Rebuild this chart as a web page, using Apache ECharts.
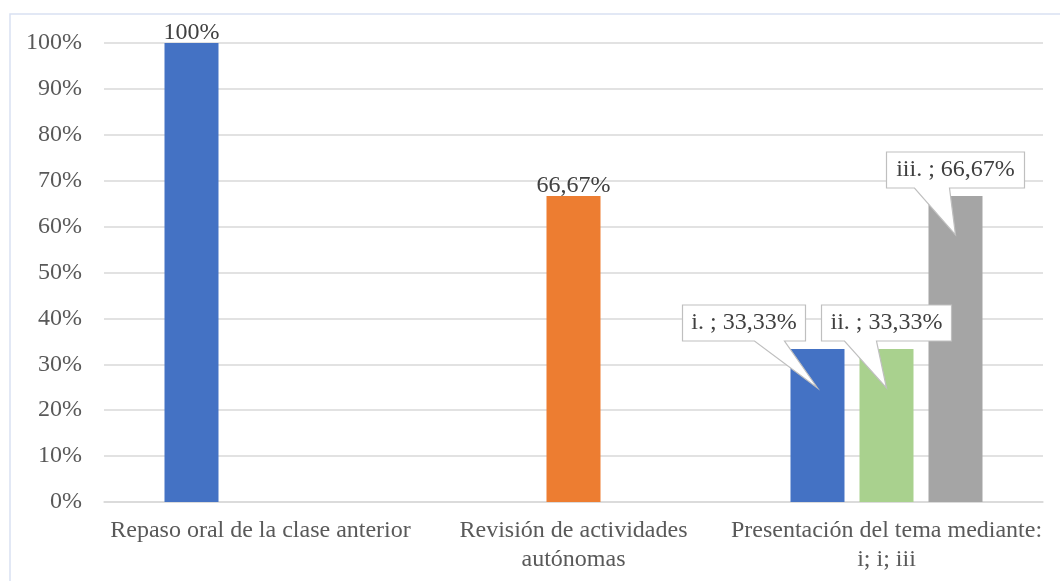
<!DOCTYPE html>
<html>
<head>
<meta charset="utf-8">
<script src="https://cdn.jsdelivr.net/npm/echarts@6/dist/echarts.min.js"></script>
<style>
  html, body { margin: 0; padding: 0; background: #ffffff; }
  #chart { width: 1060px; height: 581px; }
</style>
</head>
<body>
<div id="chart"></div>
<script>
// Categories (x axis), with explicit line breaks
const categories = [
  'Repaso oral de la clase anterior',
  'Revisión de actividades\nautónomas',
  'Presentación del tema mediante:\ni; i; iii'
];

// Percentages per bar slot (null = no bar in that slot)
const slotA = [100, null, 33.33];
const slotB = [null, 66.67, 33.33];
const slotC = [null, null, 66.67];

// Names used in the callouts of the last category
const calloutNames = ['i.', 'ii.', 'iii.'];

// Y axis ticks
const yMin = 0, yMax = 100, yStep = 10;

// ---- styling ----
const FONT = '"Liberation Serif", "Times New Roman", serif';
const AXIS_TEXT = '#595959';
const LABEL_TEXT = '#404040';
const GRID_LINE = '#d9d9d9';
const BAR_W = 54;
const BAR_GAP = 15;

// colour of each bar, by slot then category
const slotColors = [
  ['#4472c4', '#4472c4', '#4472c4'],
  ['#ed7d31', '#ed7d31', '#a9d18e'],
  ['#a5a5a5', '#a5a5a5', '#a5a5a5']
];

// callout boxes: horizontal shift of the box centre, box width, and
// where the pointer leaves the box bottom (relative to the bar centre)
const calloutLayout = [
  { dx: -73.5, w: 123, base: [-63, -33] },
  { dx: 0,     w: 130, base: [-42, -10] },
  { dx: 0,     w: 138, base: [-41, -6] }
];

function fmtPct(v) {
  return Number.isInteger(v) ? v + '%' : v.toFixed(2).replace('.', ',') + '%';
}

const CALLOUT_CAT = 2;
const slots = [slotA, slotB, slotC];

function barSeries(values, slot) {
  return {
    type: 'bar',
    barWidth: BAR_W,
    barGap: (BAR_GAP / BAR_W * 100).toFixed(2) + '%',
    z: 2,
    data: values.map((v, i) => ({
      value: v == null ? '-' : v,
      itemStyle: { color: slotColors[slot][i] },
      label: {
        show: v != null && i !== CALLOUT_CAT,
        position: 'top',
        distance: -2,
        formatter: p => fmtPct(p.value),
        fontFamily: FONT,
        fontSize: 24,
        color: LABEL_TEXT
      }
    }))
  };
}

// callout items for the last category, taken from the slot arrays
const calloutData = slots
  .map((arr, s) => [CALLOUT_CAT, arr[CALLOUT_CAT], s])
  .filter(d => d[1] != null);

const chart = echarts.init(document.getElementById('chart'), null, { renderer: 'canvas' });

chart.setOption({
  animation: false,
  backgroundColor: '#ffffff',
  grid: { left: 104, right: 17, top: 43, bottom: 79, containLabel: false },
  xAxis: {
    type: 'category',
    data: categories,
    axisLine: { lineStyle: { color: GRID_LINE, width: 1.5 } },
    axisTick: { show: false },
    axisLabel: {
      interval: 0,
      margin: 14,
      fontFamily: FONT,
      fontSize: 24,
      lineHeight: 29,
      color: AXIS_TEXT,
      align: 'center'
    }
  },
  yAxis: {
    type: 'value',
    min: yMin,
    max: yMax,
    interval: yStep,
    axisLine: { show: false },
    axisTick: { show: false },
    splitLine: { lineStyle: { color: GRID_LINE, width: 1.5 } },
    axisLabel: {
      formatter: '{value}%',
      margin: 22,
      fontFamily: FONT,
      fontSize: 24,
      color: AXIS_TEXT
    }
  },
  series: [
    barSeries(slotA, 0),
    barSeries(slotB, 1),
    barSeries(slotC, 2),
    {
      type: 'custom',
      z: 10,
      clip: false,
      data: calloutData,
      renderItem: function (params, api) {
        const cat = api.value(0);
        const val = api.value(1);
        const slot = api.value(2);
        const pt = api.coord([cat, val]);
        const x0 = pt[0] + (slot - 1) * (BAR_W + BAR_GAP);
        const y0 = pt[1];
        const L = calloutLayout[slot];
        const cx = x0 + L.dx;
        const left = cx - L.w / 2, right = cx + L.w / 2;
        const top = y0 - 44, bottom = y0 - 8;
        const tipY = y0 + 39;
        const pts = [
          [left, top], [right, top], [right, bottom],
          [x0 + L.base[1], bottom], [x0, tipY], [x0 + L.base[0], bottom],
          [left, bottom]
        ];
        return {
          type: 'group',
          children: [
            {
              type: 'polygon',
              shape: { points: pts },
              style: { fill: '#ffffff', stroke: '#bfbfbf', lineWidth: 1.2 }
            },
            {
              type: 'text',
              style: {
                text: calloutNames[slot] + ' ; ' + fmtPct(val),
                x: cx,
                y: (top + bottom) / 2,
                align: 'center',
                verticalAlign: 'middle',
                font: '24px ' + FONT,
                fill: LABEL_TEXT
              }
            }
          ]
        };
      }
    }
  ],
  graphic: [
    {
      type: 'rect',
      silent: true,
      shape: { x: 10, y: 14, width: 1100, height: 700 },
      style: { fill: 'none', stroke: '#d9e1f2', lineWidth: 1.5 }
    }
  ]
});
</script>
</body>
</html>
